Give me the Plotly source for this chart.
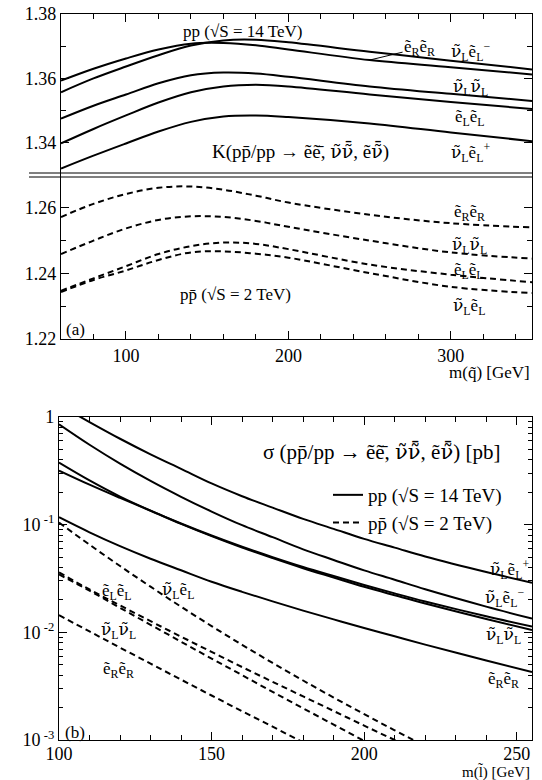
import plotly.graph_objects as go

W, H = 542, 780
def px(x): return x / W
def py(y): return 1 - y / H

# ---------------- data: panel (a) K-factors ----------------
m_sq = [60, 80, 100, 120, 140, 160, 180, 200, 250, 300, 350]
# pp, sqrt(S)=14 TeV
K14_eReR   = [1.3593, 1.3630, 1.3662, 1.3690, 1.3708, 1.3710, 1.3703, 1.3690, 1.3657, 1.3635, 1.3612]
K14_nLeLm  = [1.3557, 1.3600, 1.3637, 1.3672, 1.3702, 1.3718, 1.3720, 1.3712, 1.3683, 1.3655, 1.3628]
K14_nLnL   = [1.3475, 1.3515, 1.3550, 1.3585, 1.3610, 1.3618, 1.3615, 1.3605, 1.3575, 1.3552, 1.3530]
K14_eLeL   = [1.3398, 1.3443, 1.3485, 1.3525, 1.3557, 1.3575, 1.3580, 1.3575, 1.3550, 1.3527, 1.3505]
K14_nLeLp  = [1.3320, 1.3360, 1.3398, 1.3435, 1.3465, 1.3482, 1.3485, 1.3480, 1.3460, 1.3432, 1.3405]
# ppbar, sqrt(S)=2 TeV
K2_eReR    = [1.2572, 1.2612, 1.2642, 1.2661, 1.2665, 1.2655, 1.2637, 1.2616, 1.2579, 1.2553, 1.2540]
K2_nLnL    = [1.2459, 1.2500, 1.2537, 1.2563, 1.2574, 1.2572, 1.2560, 1.2542, 1.2500, 1.2464, 1.2445]
K2_eLeL    = [1.2347, 1.2385, 1.2422, 1.2459, 1.2483, 1.2494, 1.2490, 1.2474, 1.2427, 1.2396, 1.2373]
K2_nLeL    = [1.2343, 1.2380, 1.2409, 1.2441, 1.2464, 1.2467, 1.2460, 1.2448, 1.2401, 1.2359, 1.2340]

# ---------------- data: panel (b) cross sections [pb] ----------------
m_sl = [100, 110, 120, 130, 140, 150, 160, 170, 180, 190, 200, 210, 220, 240, 255]
S14_nLeLp = [1.30, 0.897, 0.628, 0.450, 0.330, 0.2415, 0.1837, 0.1440, 0.1132, 0.0914, 0.0738, 0.0612, 0.0506, 0.0363, 0.0289]
S14_nLeLm = [0.855, 0.552, 0.369, 0.255, 0.1816, 0.1324, 0.0989, 0.0765, 0.0590, 0.0470, 0.0376, 0.0308, 0.0251, 0.01734, 0.0134]
S14_eLeL  = [0.377, 0.2576, 0.1824, 0.1352, 0.1026, 0.0793, 0.0624, 0.0500, 0.0405, 0.0333, 0.0275, 0.0230, 0.01936, 0.01409, 0.0113]
S14_nLnL  = [0.318, 0.2355, 0.1774, 0.1346, 0.1016, 0.0782, 0.0612, 0.0489, 0.0394, 0.0323, 0.0265, 0.0221, 0.0185, 0.0133, 0.0105]
S14_eReR  = [0.1172, 0.0849, 0.0632, 0.0483, 0.0377, 0.0295, 0.02377, 0.0194, 0.01592, 0.0132, 0.01096, 0.0092, 0.00769, 0.00547, 0.00427]

S2_nLeL = [0.1045, 0.0652, 0.0413, 0.02655, 0.0173, 0.01143, 0.00766, 0.0052, 0.00357, 0.00248, 0.00174, 0.00123, 0.00088, 0.00045, 0.00028]
S2_eLeL = [0.0360, 0.0250, 0.01778, 0.0127, 0.00912, 0.00658, 0.00476, 0.00347, 0.00254, 0.00186, 0.00136, 0.00100, 0.00074, 0.00041, 0.00026]
S2_nLnL = [0.0345, 0.02438, 0.0169, 0.01175, 0.00818, 0.00571, 0.0040, 0.0028, 0.00197, 0.00139, 0.00098, 0.00069, 0.00049, 0.00025, 0.00015]
S2_eReR = [0.01445, 0.01019, 0.00721, 0.00512, 0.00364, 0.00259, 0.00185, 0.00133, 0.00095, 0.00069, 0.00050, 0.00036, 0.00026, 0.00014, 0.00009]

# tick definitions
ka_xmajor = [100, 200, 300]
ka_xminor = [60, 80, 120, 140, 160, 180, 220, 240, 260, 280, 320, 340]
ka_up_major = [1.34, 1.36, 1.38]
ka_up_minor = [1.33, 1.35, 1.37]
ka_lo_major = [1.22, 1.24, 1.26]
ka_lo_minor = [1.23, 1.25, 1.27]
kb_xmajor = [100, 150, 200, 250]
kb_xminor = [110, 120, 130, 140, 160, 170, 180, 190, 210, 220, 230, 240]
kb_ymajor = [1, 0.1, 0.01, 0.001]
kb_ylabels = ["1", "10<sup> -1</sup>", "10<sup> -2</sup>", "10<sup> -3</sup>"]
kb_yminor = [k * 10.0 ** e for e in (-3, -2, -1) for k in range(2, 10)]

FONT = "Liberation Serif, Times New Roman, serif"
NUFONT = "DejaVu Serif"
LW = 2.0
DASH = "6px,4px"

fig = go.Figure()

def add(x, y, xa, ya, dash=None, name=None, show=False):
    fig.add_trace(go.Scatter(
        x=x, y=y, xaxis=xa, yaxis=ya, mode="lines", line_shape="spline",
        line=dict(color="black", width=LW, dash=dash if dash else "solid"),
        name=name, showlegend=show, hoverinfo="skip"))

for ys in (K14_eReR, K14_nLeLm, K14_nLnL, K14_eLeL, K14_nLeLp):
    add(m_sq, ys, "x", "y")
for ys in (K2_eReR, K2_nLnL, K2_eLeL, K2_nLeL):
    add(m_sq, ys, "x2", "y2", dash=DASH)

add(m_sl, S14_nLeLp, "x3", "y3", name="pp (\u221aS = 14 TeV)", show=True)
for ys in (S14_nLeLm, S14_eLeL, S14_nLnL, S14_eReR):
    add(m_sl, ys, "x3", "y3")
add(m_sl, S2_nLeL, "x3", "y3", dash=DASH, name="pp\u0304 (\u221aS = 2 TeV)", show=True)
for ys in (S2_eLeL, S2_nLnL, S2_eReR):
    add(m_sl, ys, "x3", "y3", dash=DASH)

# geometry (screen pixels)
A_L, A_R = 61, 532
A_TOP, A_BRK, A_BOT = 14, 175, 339
B_L, B_R = 59, 532
B_TOP, B_BOT = 417, 740

ax_common = dict(showline=True, linecolor="black", linewidth=1.3, ticks="inside",
                 tickcolor="black", tickwidth=1, showgrid=False, zeroline=False,
                 automargin=False, ticklabeloverflow="allow",
                 tickfont=dict(family=FONT, size=18, color="black"))

fig.update_layout(
    width=W, height=H, margin=dict(l=0, r=0, t=0, b=0, pad=0, autoexpand=False),
    paper_bgcolor="white", plot_bgcolor="white",
    font=dict(family=FONT, size=17, color="black"),
    xaxis=dict(ax_common, domain=[px(A_L), px(A_R)], anchor="y", side="top",
               range=[60, 350], tickvals=ka_xmajor, ticklen=8, showticklabels=False,
               minor=dict(tickvals=ka_xminor, ticks="inside", ticklen=5, tickcolor="black")),
    yaxis=dict(ax_common, domain=[py(A_BRK), py(A_TOP)], anchor="x", range=[1.33, 1.38001],
               tickvals=ka_up_major, ticktext=["1.34", "1.36", "1.38"], ticklen=8, mirror="ticks",
               minor=dict(tickvals=ka_up_minor, ticks="inside", ticklen=5, tickcolor="black")),
    xaxis2=dict(ax_common, domain=[px(A_L), px(A_R)], anchor="y2", range=[60, 350],
                tickvals=ka_xmajor, ticklen=8,
                minor=dict(tickvals=ka_xminor, ticks="inside", ticklen=5, tickcolor="black")),
    yaxis2=dict(ax_common, domain=[py(A_BOT), py(A_BRK)], anchor="x2", range=[1.22, 1.27],
                tickvals=ka_lo_major, ticktext=["1.22", "1.24", "1.26"], ticklen=8, mirror="ticks",
                minor=dict(tickvals=ka_lo_minor, ticks="inside", ticklen=5, tickcolor="black")),
    xaxis3=dict(ax_common, domain=[px(B_L), px(B_R)], anchor="y3", range=[100, 255],
                tickvals=kb_xmajor, ticklen=8, mirror="ticks", ticklabelstandoff=-3,
                minor=dict(tickvals=kb_xminor, ticks="inside", ticklen=5, tickcolor="black")),
    yaxis3=dict(ax_common, domain=[py(B_BOT), py(B_TOP)], anchor="x3", type="log", range=[-3, 0],
                tickvals=kb_ymajor, ticktext=kb_ylabels, ticklen=8, mirror="ticks",
                minor=dict(tickvals=kb_yminor, ticks="inside", ticklen=4, tickcolor="black")),
    legend=dict(x=px(328), y=py(476), xanchor="left", yanchor="top", bgcolor="rgba(0,0,0,0)",
                font=dict(family=FONT, size=19, color="black"), tracegroupgap=0),
)

# broken-axis double line
for yb in (173, 177):
    fig.add_shape(type="line", xref="paper", yref="paper", x0=px(29), x1=px(A_R),
                  y0=py(yb), y1=py(yb), line=dict(color="black", width=1))

def nu(bar=False):
    return '<span style="font-family:' + NUFONT + '">\u03bd\u0303' + ("\u0304" if bar else "") + "</span>"
et = "\u1ebd"

def lab(text, x, y, size=17, xanchor="center"):
    fig.add_annotation(text=text, x=px(x), y=py(y), xref="paper", yref="paper",
                       showarrow=False, xanchor=xanchor, yanchor="middle",
                       font=dict(family=FONT, size=size, color="black"))

eReR = et + "<sub>R</sub>" + et + "<sub>R</sub>"
eLeL = et + "<sub>L</sub>" + et + "<sub>L</sub>"
nLnL = nu() + "<sub>L</sub>" + nu() + "<sub>L</sub>"
nLeL = nu() + "<sub>L</sub>" + et + "<sub>L</sub>"
nLeLm = nu() + "<sub>L</sub>" + et + "<sub>L</sub><sup>\u2212</sup>"
nLeLp = nu() + "<sub>L</sub>" + et + "<sub>L</sub><sup>+</sup>"
proc = "(pp\u0304/pp \u2192 " + et + et + "\u0304, " + nu() + nu(True) + ", " + et + nu(True) + ")"

# panel (a)
lab("pp (\u221aS = 14 TeV)", 242, 32)
fig.add_annotation(text=eReR, x=250, y=K14_eReR[m_sq.index(250)], xref="x", yref="y",
                   showarrow=True, arrowhead=0, arrowwidth=1, arrowcolor="black",
                   ax=50, ay=-12, standoff=0, font=dict(family=FONT, size=17, color="black"))
lab(nLeLm, 470, 52)
lab(nLnL, 470, 87)
lab(eLeL, 470, 118)
lab(nLeLp, 470, 153)
lab("K" + proc, 300, 152, size=19)
lab(eReR, 469, 213)
lab(nLnL, 469, 245)
lab(eLeL, 469, 271)
lab(nLeL, 469, 307)
lab("pp\u0304 (\u221aS = 2 TeV)", 235, 294)
lab("(a)", 64, 329, xanchor="left")
lab("m(q\u0303) [GeV]", 532, 372, xanchor="right")

# panel (b)
lab("\u03c3 " + proc + " [pb]", 381, 452, size=21)
lab(nLeLp, 531, 569, xanchor="right")
lab(nLeLm, 504, 597)
fig.add_annotation(text=eLeL, x=240, y=S14_eLeL[m_sl.index(240)], xref="x3", yref="y3",
                   showarrow=True, arrowhead=0, arrowwidth=1, arrowcolor="black",
                   ax=-30, ay=10, standoff=0, font=dict(family=FONT, size=17, color="black"))
lab(nLnL, 503, 635)
lab(eReR, 503, 680)
lab(eLeL, 117, 592)
lab(nLeL, 178, 590)
lab(nLnL, 118, 630)
lab(eReR, 118, 670)
lab("(b)", 63, 732, xanchor="left")
lab("m(l\u0303) [GeV]", 532, 772, size=15, xanchor="right")

fig.write_html("out.html", config={"displayModeBar": False},
               post_script="document.body.style.margin='0';document.body.style.overflow='hidden';")
